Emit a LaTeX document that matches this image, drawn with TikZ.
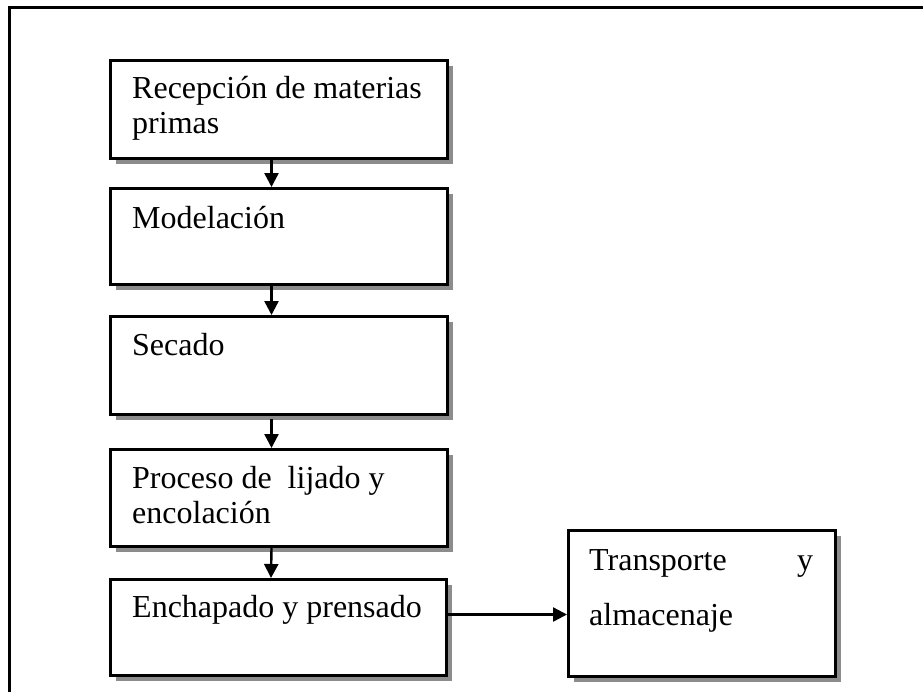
\documentclass[tikz,border=0pt]{standalone}
\usepackage{fontspec}
\setmainfont{Liberation Serif}
\usetikzlibrary{arrows.meta,shadows,calc}
\tikzset{
  box/.style={draw=black, line width=3pt, fill=white, rectangle, inner sep=0pt, anchor=north west,
    drop shadow={shadow xshift=5pt, shadow yshift=-5pt, fill=black!45, opacity=1}},
  txt/.style={inner sep=0pt, anchor=base west, font=\fontsize{32}{35}\selectfont},
  arr/.style={line width=2.4pt, -{Triangle[length=14pt,width=14pt]}},
  frame/.style={line width=3pt}
}
\begin{document}
\begin{tikzpicture}[x=1pt,y=-1pt]
\useasboundingbox (0,0) rectangle (923,691);
\fill[white] (0,0) rectangle (923,691);
\draw[frame] (9,700) -- (9,7) -- (930,7);

\node[box, minimum width=337pt, minimum height=98pt] (b1) at (109,59) {};
\node[box, minimum width=337pt, minimum height=96pt] (b2) at (109,187) {};
\node[box, minimum width=337pt, minimum height=98pt] (b3) at (109,315) {};
\node[box, minimum width=337pt, minimum height=97pt] (b4) at (109,448) {};
\node[box, minimum width=336pt, minimum height=96pt] (b5) at (109,578) {};
\node[box, minimum width=267pt, minimum height=146pt] (b6) at (567,529) {};

\node[txt] (t1a) at ($(b1.north west)+(23,39)$) {Recepción de materias};
\node[txt] (t1b) at ($(b1.north west)+(23,74)$) {primas};
\node[txt] (t2) at ($(b2.north west)+(23,41)$) {Modelación};
\node[txt] (t3) at ($(b3.north west)+(23,40)$) {Secado};
\node[txt] (t4a) at ($(b4.north west)+(23,40)$) {Proceso de\ \ lijado y};
\node[txt] (t4b) at ($(b4.north west)+(23,75)$) {encolación};
\node[txt] (t5) at ($(b5.north west)+(23,39)$) {Enchapado y prensado};
\node[txt] (t6a) at ($(b6.north west)+(22,41)$) {\makebox[224pt][s]{Transporte\hfill y}};
\node[txt] (t6b) at ($(b6.north west)+(22,96)$) {almacenaje};

\draw[arr] ([xshift=-7.5pt]b1.south) -- ([xshift=-7.5pt]b2.north);
\draw[arr] ([xshift=-7.5pt]b2.south) -- ([xshift=-7.5pt]b3.north);
\draw[arr] ([xshift=-7.5pt,yshift=-3pt]b3.south) -- ([xshift=-7.5pt]b4.north);
\draw[arr] ([xshift=-7.5pt]b4.south) -- ([xshift=-7.5pt]b5.north);
\draw[arr] ([yshift=13pt]b5.east) -- ([yshift=13pt]b5.east -| b6.west);
\end{tikzpicture}
\end{document}
